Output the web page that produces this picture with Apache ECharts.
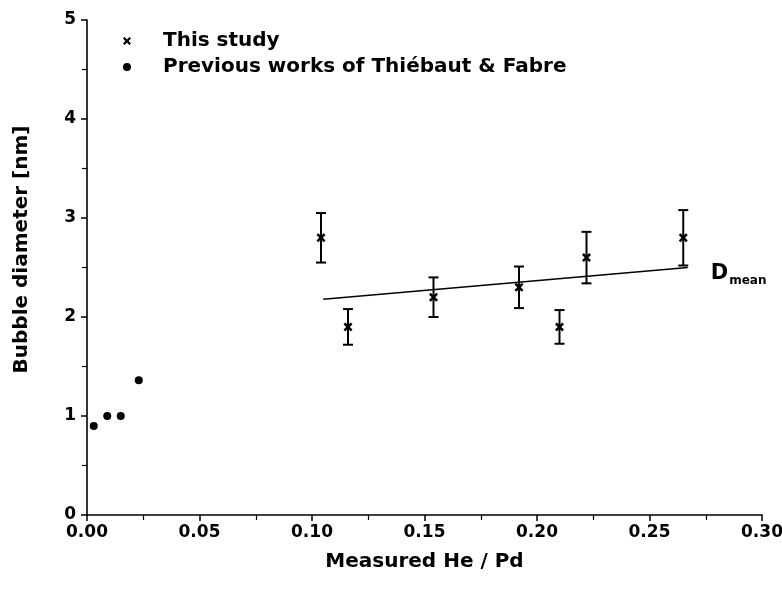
<!DOCTYPE html>
<html>
<head>
<meta charset="utf-8">
<script src="https://cdn.jsdelivr.net/npm/echarts@6/dist/echarts.min.js"></script>
<style>html,body{margin:0;padding:0;background:#fff}#c{width:782px;height:590px}</style>
</head>
<body>
<div id="c"></div>
<script>
// This study
var studyX = [0.104, 0.116, 0.154, 0.192, 0.210, 0.222, 0.265];
var studyY = [2.80, 1.90, 2.20, 2.30, 1.90, 2.60, 2.80];
var studyErr = [0.25, 0.18, 0.20, 0.21, 0.17, 0.26, 0.28];
// Previous works of Thiébaut & Fabre
var prevX = [0.003, 0.009, 0.015, 0.023];
var prevY = [0.90, 1.00, 1.00, 1.36];
// D_mean line
var meanX = [0.105, 0.267];
var meanY = [2.18, 2.50];
var xTicks = [0, 0.05, 0.10, 0.15, 0.20, 0.25, 0.30];
var yTicks = [0, 1, 2, 3, 4, 5];

var FONT = '"DejaVu Sans", "Liberation Sans", Arial, sans-serif';
var crossPath = 'path://M0,2L2,0L5,3L8,0L10,2L7,5L10,8L8,10L5,7L2,10L0,8L3,5Z';

var studyData = studyX.map(function (x, i) { return [x, studyY[i]]; });
var errData = studyX.map(function (x, i) { return [x, studyY[i] - studyErr[i], studyY[i] + studyErr[i]]; });
var prevData = prevX.map(function (x, i) { return [x, prevY[i]]; });
var meanData = meanX.map(function (x, i) { return [x, meanY[i]]; });

var chart = echarts.init(document.getElementById('c'), null, {renderer: 'canvas'});
chart.setOption({
  animation: false,
  backgroundColor: '#fff',
  textStyle: {fontFamily: FONT},
  grid: {left: 87, right: 20, top: 20, bottom: 75, containLabel: false, outerBoundsMode: 'none'},
  legend: {
    orient: 'vertical', left: 118, top: 26, itemGap: 6,
    itemWidth: 18, itemHeight: 8,
    textStyle: {fontFamily: FONT, fontWeight: 'bold', fontSize: 20, color: '#000', padding: [0, 0, 0, 22]},
    data: [
      {name: 'This study', icon: crossPath, itemStyle: {color: '#000', opacity: 1}},
      {name: 'Previous works of Thiébaut & Fabre', icon: 'circle', itemStyle: {color: '#000', opacity: 1}}
    ]
  },
  xAxis: {
    type: 'value', min: 0, max: 0.3, interval: 0.05,
    name: 'Measured He / Pd', nameLocation: 'middle', nameGap: 37,
    nameTextStyle: {fontFamily: FONT, fontWeight: 'bold', fontSize: 20, color: '#000'},
    axisLine: {onZero: false, lineStyle: {color: '#000', width: 1.6}},
    axisTick: {inside: false, length: 6, lineStyle: {color: '#000', width: 1.5}},
    minorTick: {show: true, splitNumber: 2, length: 5, lineStyle: {color: '#000', width: 1.2}},
    axisLabel: {fontFamily: FONT, fontWeight: 'bold', fontSize: 17, color: '#000', margin: 9,
      formatter: function (v) { return v.toFixed(2); }},
    splitLine: {show: false}
  },
  yAxis: {
    type: 'value', min: 0, max: 5, interval: 1,
    name: 'Bubble diameter [nm]', nameLocation: 'middle', nameGap: 55,
    nameTextStyle: {fontFamily: FONT, fontWeight: 'bold', fontSize: 20, color: '#000', padding: [0, 0, 0, 36]},
    axisLine: {onZero: false, lineStyle: {color: '#000', width: 1.6}},
    axisTick: {inside: false, length: 6, lineStyle: {color: '#000', width: 1.5}},
    minorTick: {show: true, splitNumber: 2, length: 5, lineStyle: {color: '#000', width: 1.2}},
    axisLabel: {fontFamily: FONT, fontWeight: 'bold', fontSize: 17, color: '#000', margin: 11},
    splitLine: {show: false}
  },
  series: [
    {
      name: 'D_mean', type: 'line', data: meanData, symbol: 'none',
      lineStyle: {color: '#000', width: 1.6}, silent: true,
      endLabel: {show: true, offset: [15, 6], formatter: '{d|D}{s|mean}',
        rich: {d: {fontFamily: FONT, fontWeight: 'bold', fontSize: 21, color: '#000'},
               s: {fontFamily: FONT, fontWeight: 'bold', fontSize: 12, color: '#000', padding: [14, 0, 0, 1]}}}
    },
    {
      name: 'err', type: 'custom', data: errData,
      renderItem: function (params, api) {
        var x = api.value(0);
        var lo = api.coord([x, api.value(1)]);
        var hi = api.coord([x, api.value(2)]);
        var w = 5;
        var st = {stroke: '#000', lineWidth: 2};
        return {type: 'group', children: [
          {type: 'line', shape: {x1: lo[0], y1: lo[1], x2: hi[0], y2: hi[1]}, style: st},
          {type: 'line', shape: {x1: lo[0] - w, y1: lo[1], x2: lo[0] + w, y2: lo[1]}, style: st},
          {type: 'line', shape: {x1: hi[0] - w, y1: hi[1], x2: hi[0] + w, y2: hi[1]}, style: st}
        ]};
      },
      encode: {x: 0, y: [1, 2]}, z: 2
    },
    {
      name: 'This study', type: 'scatter', data: studyData, symbol: crossPath, symbolSize: 9,
      itemStyle: {color: '#000', opacity: 1}, z: 3
    },
    {
      name: 'Previous works of Thiébaut & Fabre', type: 'scatter', data: prevData, symbol: 'circle', symbolSize: 8,
      itemStyle: {color: '#000', opacity: 1}, z: 3
    }
  ]
});
</script>
</body>
</html>
